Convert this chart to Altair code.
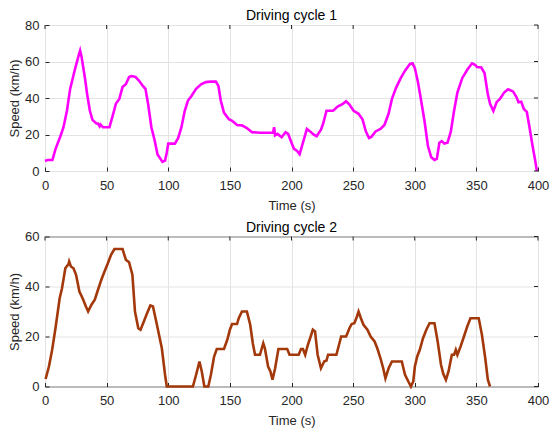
import altair as alt
import pandas as pd

# ---- Driving cycle 1 (time s, speed km/h) ----
t1 = [0, 2, 6, 8.5, 12.5, 15, 17.8, 20.4, 24.4, 27.6,
      28.5, 29.7, 32.4, 34.2, 36.4, 38.5, 41.7, 43, 44.3, 45,
      47, 52.3, 55, 57.6, 60.3, 62.9, 65.6, 68.2, 70.3, 73.5,
      76.2, 79.4, 81.5, 83.6, 86.3, 88.9, 91.3, 93.4, 95.3, 97.4,
      98.8, 100, 105.4, 108, 110.7, 113.4, 116, 118.7, 122.6, 126.6,
      130.6, 134.6, 138.6, 140.7, 142.6, 145.2, 149.2, 151.8, 155.8, 159.8,
      163.8, 167.8, 174.4, 185, 185.9, 186.7, 188.6, 192, 195.2, 197.3,
      200, 201.9, 204.5, 206.6, 209.3, 212.5, 215.1, 217.8, 220.4, 223.9,
      225.7, 228.4, 233.7, 237.7, 241.7, 244.3, 247, 250.4, 254.2, 257.6,
      260.3, 262.9, 264.8, 268.2, 272.2, 275.4, 278.8, 281.5, 284.9, 288.7,
      292.1, 296.1, 298.2, 300.1, 302.7, 305.4, 308, 310.7, 313.4, 316,
      317.9, 320, 321.9, 324, 326.6, 329.3, 331.9, 334.6, 338.6, 342.6,
      346.5, 349.2, 350.5, 354, 356.6, 359.3, 361.1, 363.8, 366.4, 369.1,
      372.5, 375.7, 379.7, 382.4, 384.2, 386.4, 388.5, 390.9, 393, 395.6,
      397.5, 399.1]
v1 = [5.5, 6, 6, 12, 19, 24, 33, 45, 56, 64,
      66, 62.5, 51, 42, 33, 28, 26, 26, 24.5, 25.5,
      24, 24, 30.5, 37, 39.5, 46, 47.5, 51.5, 52, 51.5,
      49.6, 46.6, 45, 37, 24, 17, 9, 7, 5, 5.7,
      10, 15, 15, 18, 24, 33, 38.6, 41, 45, 47.5,
      48.7, 49, 49, 46.6, 38.6, 32, 28.4, 27.5, 25.2, 25,
      23.5, 21.3, 21, 21, 24, 19.5, 20.3, 18.5, 21.2, 20.3,
      15.5, 12.3, 11, 9.2, 15.5, 23, 21.7, 20, 19, 22.6,
      26, 33, 33, 35.4, 36.8, 38.2, 36.4, 33, 31.5, 28.3,
      21.7, 18.1, 18.7, 21.7, 23.1, 25.2, 31.5, 39.5, 45.7, 51,
      55, 58.7, 59, 56.4, 48.4, 37.7, 27, 13.7, 7.5, 6,
      6.6, 15.5, 16.4, 15, 15.5, 21.7, 33, 43, 51, 55.5,
      59, 58.1, 57, 56.7, 53.7, 42, 36.8, 32.9, 37.7, 39.5,
      43, 44.8, 43.6, 40.7, 37.7, 38, 34, 32.4, 24.4, 13.7,
      6.6, 0]

# ---- Driving cycle 2 ----
t2 = [0.5, 3.2, 5.8, 8.5, 10.4, 11.9, 13.8, 16.5, 19.1, 19.6,
      21, 23.1, 25.2, 27.9, 30.5, 33.2, 35, 37.7, 40.4, 43,
      45.7, 48.3, 51, 53.6, 56.3, 62.9, 65.6, 68.2, 70.9, 73,
      75.7, 77.5, 80.2, 82.8, 85.5, 87.6, 90.8, 94.8, 97.4, 98.8,
      120, 122.6, 125.3, 127.2, 129.3, 132.5, 134.6, 137.2, 139.4, 145.2,
      147.9, 150, 151.8, 155.8, 157.2, 159.8, 163.8, 166.5, 168.6, 170.4,
      174.4, 177.1, 178.4, 181, 182.9, 184.6, 186.7, 189.4, 196.5, 198.4,
      205.8, 207.7, 209.3, 211.1, 213.3, 215.1, 217.3, 219.1, 221.2, 223.9,
      226.5, 228.4, 229.7, 236.4, 238.2, 240.3, 244.3, 247, 248.8, 251,
      253.1, 254.4, 256.3, 258.4, 261.6, 264.2, 267.4, 269.6, 272.2, 274.4,
      276.2, 278.8, 281.5, 289.5, 292.1, 294.8, 296.9, 298.8, 300.1, 302,
      304.1, 306.7, 309.4, 312, 316, 318.6, 321.3, 323.2, 325.3, 327.4,
      330.1, 331.9, 333.3, 334.6, 337.2, 339.9, 342.6, 345.2, 351.9, 354.5,
      357.2, 359.3, 361.1]
v2 = [3, 8, 14.7, 23.3, 30, 35.3, 39.3, 47.3, 49, 50,
      48, 47.3, 44.7, 38, 35.3, 32, 30, 32.7, 34.7, 38.7,
      42.7, 46, 49.3, 52.7, 55, 55, 50.7, 49.7, 44.7, 30,
      23.3, 22.7, 26, 29.3, 32.4, 32, 24.7, 15.3, 4.7, 0,
      0, 4.7, 10, 6, 0, 0, 4.7, 12, 15, 15,
      18.7, 22.7, 25, 25, 27.3, 30, 30, 24.7, 17.3, 12.7,
      12.7, 17.3, 15.3, 8, 6, 2.7, 7.3, 15, 15, 12.7,
      12.7, 15, 15, 12.7, 16.7, 19.3, 22.7, 22, 12.7, 7.3,
      10, 10.4, 12.7, 12.7, 16, 20, 20, 23.3, 25, 25.3,
      28, 30, 27.3, 24.7, 22.7, 20, 18, 15.3, 11.3, 7.3,
      3.3, 7.3, 10, 10, 4.7, 2, 0, 2, 8, 12,
      14.7, 19.3, 22.7, 25.3, 25.3, 18, 8.7, 5, 2.7, 6,
      12.7, 12.7, 14.7, 12.7, 16, 20, 24, 27.3, 27.3, 20.7,
      11.3, 2.7, 0]

x_ticks = [0, 50, 100, 150, 200, 250, 300, 350, 400]
y1_ticks = [0, 20, 40, 60, 80]
y2_ticks = [0, 20, 40, 60]

FONT = "Liberation Sans"
TXT = "#262626"
W = 493


def panel(t, v, color, ymax, yticks, title, h):
    df = pd.DataFrame({"t": t, "v": v})
    xs = alt.Scale(domain=[0, 400], nice=False, zero=False)
    ys = alt.Scale(domain=[0, ymax], nice=False)
    xenc = alt.X("t:Q", scale=xs, title="Time (s)",
                 axis=alt.Axis(values=x_ticks, offset=-4, tickSize=4,
                               domain=False, grid=True, labelPadding=8,
                               titlePadding=7, minExtent=0,
                               labelFlush=False))
    yenc = alt.Y("v:Q", scale=ys, title="Speed (km/h)",
                 axis=alt.Axis(values=yticks, offset=-4, tickSize=4,
                               domain=False, grid=True, labelPadding=6,
                               titlePadding=3, minExtent=0,
                               labelFlush=False))
    line = alt.Chart(df).mark_line(color=color, strokeWidth=2.6).encode(
        x=xenc, y=yenc)
    # inner tick marks on the top and right edges of the box
    top_ticks = alt.Chart(pd.DataFrame({"t": x_ticks})).mark_rule(
        color=TXT, strokeWidth=1).encode(
        x=xenc, y=alt.value(0), y2=alt.value(4))
    right_ticks = alt.Chart(pd.DataFrame({"v": yticks})).mark_rule(
        color=TXT, strokeWidth=1).encode(
        y=yenc, x=alt.value(W - 4), x2=alt.value(W))
    return alt.layer(line, top_ticks, right_ticks).properties(
        width=W, height=h, title=title)


top = panel(t1, v1, "#FF00FF", 80, y1_ticks, "Driving cycle 1", 146)
bottom = panel(t2, v2, "#A3380A", 60, y2_ticks, "Driving cycle 2", 150)

chart = alt.vconcat(top, bottom, spacing=6.5).properties(
    padding={"left": 0, "top": 0, "right": 0, "bottom": 0}
).configure_view(
    stroke=TXT, strokeWidth=1
).configure_axis(
    labelFont=FONT, titleFont=FONT, labelFontSize=13, titleFontSize=13,
    labelColor=TXT, titleColor=TXT, tickColor=TXT, titleFontWeight="normal",
    gridColor="#E3E3E3", gridWidth=1
).configure_title(
    font=FONT, fontSize=14, fontWeight="normal", color="#000000",
    anchor="middle", offset=-4
)

chart.save("out.html", embed_options={"renderer": "svg", "actions": False})
